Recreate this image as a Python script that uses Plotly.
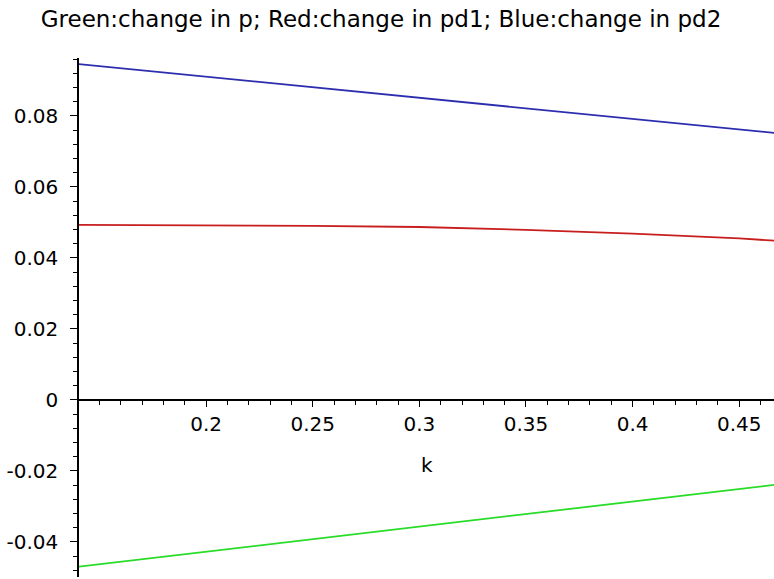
import plotly.graph_objects as go

# Data
k_values = [0.14, 0.2, 0.25, 0.3, 0.35, 0.4, 0.45, 0.47]
change_p = [-0.0470, -0.0428, -0.0393, -0.0358, -0.0322, -0.0287, -0.0251, -0.0237]
change_pd1 = [0.0493, 0.0492, 0.0490, 0.0487, 0.0479, 0.0468, 0.0455, 0.0447]
change_pd2 = [0.0946, 0.0910, 0.0880, 0.0851, 0.0821, 0.0791, 0.0761, 0.0750]

x_tick_vals = [0.2, 0.25, 0.3, 0.35, 0.4, 0.45]
x_tick_text = ["0.2", "0.25", "0.3", "0.35", "0.4", "0.45"]
y_tick_vals = [-0.04, -0.02, 0, 0.02, 0.04, 0.06, 0.08]
y_tick_text = ["-0.04", "-0.02", "0", "0.02", "0.04", "0.06", "0.08"]

title_text = "Green:change in p; Red:change in pd1; Blue:change in pd2"

x_range = [0.1404, 0.4663]
y_range = [-0.0499, 0.0963]

FONT = "DejaVu Sans"

fig = go.Figure()
fig.add_trace(go.Scatter(x=k_values, y=change_p, mode="lines",
                         line=dict(color="rgb(40,220,40)", width=1.8), showlegend=False))
fig.add_trace(go.Scatter(x=k_values, y=change_pd1, mode="lines",
                         line=dict(color="rgb(200,30,30)", width=1.8), showlegend=False))
fig.add_trace(go.Scatter(x=k_values, y=change_pd2, mode="lines",
                         line=dict(color="rgb(45,45,175)", width=1.8), showlegend=False))

x_pos = (0 - y_range[0]) / (y_range[1] - y_range[0])

fig.update_layout(
    width=774, height=579,
    margin=dict(l=79, r=0, t=58, b=2, autoexpand=False),
    paper_bgcolor="white", plot_bgcolor="white",
    font=dict(family=FONT, color="black", size=20),
    title=dict(text=title_text, xref="container", yref="container",
               x=381 / 774, xanchor="center", y=1 - 19 / 579, yanchor="middle",
               font=dict(family=FONT, size=23, color="black")),
    xaxis=dict(range=x_range, anchor="free", position=x_pos, automargin=False,
               showline=True, linecolor="black", linewidth=1.5,
               showgrid=False, zeroline=False,
               tickmode="array", tickvals=x_tick_vals, ticktext=x_tick_text,
               ticks="outside", ticklen=6, tickwidth=1.3, tickcolor="black",
               tickfont=dict(family=FONT, size=20, color="black"),
               minor=dict(tickmode="linear", tick0=0.0, dtick=0.01, ticks="outside",
                          ticklen=4, tickwidth=1.2, tickcolor="black", showgrid=False)),
    yaxis=dict(range=y_range, automargin=False,
               showline=True, linecolor="black", linewidth=1.5,
               showgrid=False, zeroline=False,
               tickmode="array", tickvals=y_tick_vals, ticktext=y_tick_text,
               ticks="outside", ticklen=7, tickwidth=1.3, tickcolor="black",
               ticklabelstandoff=8,
               tickfont=dict(family=FONT, size=20, color="black"),
               minor=dict(tickmode="linear", tick0=0.0, dtick=0.004, ticks="outside",
                          ticklen=4, tickwidth=1.2, tickcolor="black", showgrid=False)),
)

fig.add_annotation(text="k", xref="paper", yref="y", x=0.5, y=-0.0183,
                   showarrow=False, xanchor="center", yanchor="middle",
                   font=dict(family=FONT, size=20, color="black"))

fig.write_html("out.html", config={"displayModeBar": False},
               post_script="document.body.style.margin='0';document.body.style.overflow='hidden';")
